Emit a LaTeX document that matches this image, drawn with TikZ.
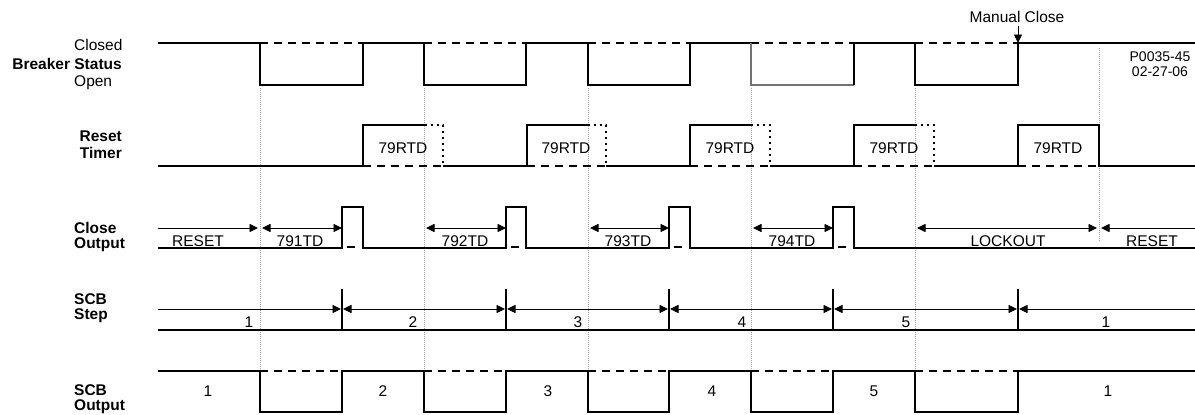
\documentclass[tikz,border=0pt]{standalone}
\usepackage{fontspec}
\setmainfont{Liberation Sans}
\usetikzlibrary{arrows.meta}
\begin{document}
\begin{tikzpicture}[x=1pt,y=-1pt,
  sig/.style={line width=2pt, line join=miter},
  ghost/.style={line width=1.6pt, dash pattern=on 8pt off 6pt},
  dotl/.style={line width=2pt, dash pattern=on 2pt off 4pt},
  gridl/.style={black!35, line width=0.8pt, dash pattern=on 1pt off 1pt},
  dim/.style={line width=0.9pt},
  tip/.tip={Triangle[length=8.5pt,width=8pt]},
  lbl/.style={font=\fontsize{15.5}{17}\selectfont, inner sep=0pt},
  hdr/.style={font=\fontsize{15.5}{17}\selectfont\bfseries, inner sep=0pt},
]
\useasboundingbox (0,0) rectangle (1195,415);

% grey guide lines
\foreach \x in {260,424,588,751,915}
  \draw[gridl] (\x,88) -- (\x,370);
\draw[gridl] (1099,48) -- (1099,242);

% ---------------- row labels
\node[lbl,anchor=west] (lc) at (74,45) {Closed};
\node[hdr,anchor=east] (lbs) at (122,64) {Breaker Status};
\node[lbl,anchor=west] (lo) at (74,83) {Open};
\node[hdr,anchor=east] (lr) at (122,136) {Reset};
\node[hdr,anchor=east] (lt) at (122,153) {Timer};
\node[hdr,anchor=west] (lcl) at (74,228) {Close};
\node[hdr,anchor=west] (lou) at (74,245) {Output};
\node[hdr,anchor=west] (ls1) at (74,299) {SCB};
\node[hdr,anchor=west] (ls2) at (74,316) {Step};
\node[hdr,anchor=west] (lo1) at (74,390) {SCB};
\node[hdr,anchor=west] (lo2) at (74,407) {Output};

% ---------------- Breaker status
\draw[ghost] (260,43) -- (363,43) (424,43) -- (526,43) (588,43) -- (690,43)
  (751,43) -- (854,43) (915,43) -- (1018,43);
\draw[sig] (158,43) -- (260,43) -- (260,85) -- (363,85) -- (363,43) -- (424,43)
  -- (424,85) -- (526,85) -- (526,43) -- (588,43) -- (588,85) -- (690,85)
  -- (690,43) -- (751,43);
\draw[sig,black!55,line width=1.6pt] (751,43) -- (751,85) -- (854,85);
\draw[sig] (854,85) -- (854,43) -- (915,43) -- (915,85) -- (1018,85)
  -- (1018,43) -- (1195,43);
\node[lbl] (mc) at (1017,17) {Manual Close};
\coordinate (mct) at (1018,43);
\draw[dim,-tip] (mc.south -| mct) ++(0,3) -- (mct);
\node[font=\fontsize{14}{15}\selectfont, inner sep=0pt, align=center] (pn) at (1160,64) {P0035-45\\02-27-06};

% ---------------- Reset timer
\draw[ghost] (363,166) -- (443,166) (527,166) -- (606,166) (690,166) -- (770,166)
  (854,166) -- (934,166) (1018,166) -- (1099,166);
\draw[sig] (158,166) -- (363,166) -- (363,125) -- (425,125);
\draw[dotl] (425,125) -- (443,125) -- (443,166);
\draw[sig] (443,166) -- (527,166) -- (527,125) -- (588,125);
\draw[dotl] (588,125) -- (606,125) -- (606,166);
\draw[sig] (606,166) -- (690,166) -- (690,125) -- (751,125);
\draw[dotl] (751,125) -- (770,125) -- (770,166);
\draw[sig] (770,166) -- (854,166) -- (854,125) -- (915,125);
\draw[dotl] (915,125) -- (934,125) -- (934,166);
\draw[sig] (934,166) -- (1018,166) -- (1018,125) -- (1099,125) -- (1099,166) -- (1195,166);
\foreach \x/\n in {403/r1,566/r2,730/r3,894/r4,1058/r5}
  \node[lbl] (\n) at (\x,148) {79RTD};

% ---------------- Close output
\draw[sig] (158,248) -- (342,248) -- (342,207) -- (363,207) -- (363,248)
  -- (506,248) -- (506,207) -- (526,207) -- (526,248)
  -- (669,248) -- (669,207) -- (690,207) -- (690,248)
  -- (833,248) -- (833,207) -- (854,207) -- (854,248) -- (1195,248);
\foreach \x in {342,506,669,833}
  \draw[line width=2pt] (\x+5,247) -- (\x+13,247);
\draw[dim,-tip] (158,228) -- (258,228);
\draw[dim,tip-tip] (262,228) -- (342,228);
\draw[dim,tip-tip] (426,228) -- (506,228);
\draw[dim,tip-tip] (590,228) -- (669,228);
\draw[dim,tip-tip] (753,228) -- (833,228);
\draw[dim,tip-tip] (917,228) -- (1097,228);
\draw[dim,tip-] (1101,228) -- (1195,228);
\node[lbl] (c1) at (198,241) {RESET};
\node[lbl] (c2) at (300,241) {791TD};
\node[lbl] (c3) at (465,241) {792TD};
\node[lbl] (c4) at (628,241) {793TD};
\node[lbl] (c5) at (792,241) {794TD};
\node[lbl] (c6) at (1008,241) {LOCKOUT};
\node[lbl] (c7) at (1152,241) {RESET};

% ---------------- SCB step
\draw[sig] (158,330) -- (1195,330);
\foreach \x in {342,506,669,833,1018}
  \draw[sig] (\x,289) -- (\x,330);
\draw[dim,-tip] (158,309) -- (341,309);
\draw[dim,tip-tip] (343,309) -- (505,309);
\draw[dim,tip-tip] (507,309) -- (668,309);
\draw[dim,tip-tip] (670,309) -- (832,309);
\draw[dim,tip-tip] (834,309) -- (1017,309);
\draw[dim,tip-] (1019,309) -- (1195,309);
\foreach \x/\t/\n in {249/1/s1,413/2/s2,578/3/s3,742/4/s4,906/5/s5,1106/1/s6}
  \node[lbl] (\n) at (\x,322) {\t};

% ---------------- SCB output
\draw[ghost] (260,371) -- (342,371) (424,371) -- (506,371) (588,371) -- (669,371)
  (751,371) -- (833,371) (915,371) -- (1018,371);
\draw[sig] (158,371) -- (260,371) -- (260,412) -- (342,412) -- (342,371)
  -- (424,371) -- (424,412) -- (506,412) -- (506,371)
  -- (588,371) -- (588,412) -- (669,412) -- (669,371)
  -- (751,371) -- (751,412) -- (833,412) -- (833,371)
  -- (915,371) -- (915,412) -- (1018,412) -- (1018,371) -- (1195,371);
\foreach \x/\t/\n in {208/1/o1,383/2/o2,548/3/o3,712/4/o4,874/5/o5,1108/1/o6}
  \node[lbl] (\n) at (\x,391) {\t};
\end{tikzpicture}
\end{document}
